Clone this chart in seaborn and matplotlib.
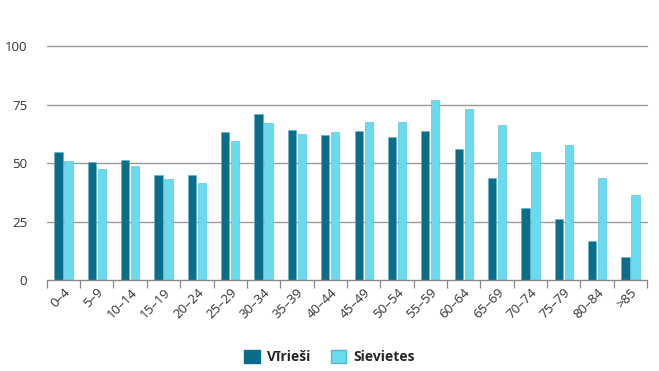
import matplotlib
matplotlib.use("Agg")
import matplotlib.pyplot as plt
import numpy as np
import pandas as pd
import seaborn as sns
from matplotlib.patches import Patch
from matplotlib.ticker import FixedLocator

AGE_GROUPS = ["0–4", "5–9", "10–14", "15–19", "20–24", "25–29", "30–34", "35–39",
              "40–44", "45–49", "50–54", "55–59", "60–64", "65–69", "70–74", "75–79",
              "80–84", ">85"]
MEN = [54.7, 50.3, 51.4, 45.0, 45.0, 63.4, 71.1, 64.3, 61.9, 63.9, 61.0, 63.9,
       56.1, 43.7, 30.6, 26.1, 16.7, 9.9]
WOMEN = [50.9, 47.4, 48.9, 43.3, 41.6, 59.6, 67.1, 62.4, 63.3, 67.7, 67.7, 76.9,
         73.0, 66.4, 54.9, 57.6, 43.7, 36.4]
SERIES = ["Vīrieši", "Sievietes"]
DARK = "#0b6d89"
LIGHT = "#68dbee"

df = pd.DataFrame({
    "age": AGE_GROUPS * 2,
    "value": MEN + WOMEN,
    "sex": [SERIES[0]] * len(MEN) + [SERIES[1]] * len(WOMEN),
})

sns.set_theme(style="white")
plt.rcParams["font.family"] = ["Open Sans", "DejaVu Sans"]

fig = plt.figure(figsize=(6.59, 3.71), dpi=100)
ax = fig.add_axes([0.071, 0.245, 0.911, 0.631])

ax.set_axisbelow(True)
for y in [25, 50, 75, 100]:
    ax.axhline(y, color="#9a9a9a", linewidth=1.0, zorder=0, clip_on=False)

sns.barplot(
    data=df, x="age", y="value", hue="sex", order=AGE_GROUPS, hue_order=SERIES,
    palette=[DARK, LIGHT], width=0.6, gap=0.18, saturation=1,
    edgecolor="#4fb8cc", linewidth=0.4, legend=False, ax=ax,
)

ax.set_xlim(-0.5, len(AGE_GROUPS) - 0.5)
ax.set_ylim(0, 100)
ax.set_yticks([0, 25, 50, 75, 100])
ax.tick_params(axis="y", length=0, labelsize=9.5, colors="#333333", pad=14)
ax.set_xlabel("")
ax.set_ylabel("")

ax.xaxis.set_minor_locator(FixedLocator(np.arange(-0.5, len(AGE_GROUPS), 1.0)))
ax.tick_params(axis="x", which="major", length=0, labelsize=9.5, colors="#333333", pad=4)
ax.tick_params(axis="x", which="minor", length=6, width=0.9, color="#888888", bottom=True)
for lbl in ax.get_xticklabels():
    lbl.set_rotation(45)
    lbl.set_ha("right")
    lbl.set_rotation_mode("anchor")

for side in ["left", "right", "top"]:
    ax.spines[side].set_visible(False)
ax.spines["bottom"].set_color("#888888")
ax.spines["bottom"].set_linewidth(1.0)

handles = [Patch(facecolor=DARK, edgecolor=DARK), Patch(facecolor=LIGHT, edgecolor="#4fb8cc")]
fig.legend(handles, SERIES, loc="center", bbox_to_anchor=(0.5, 0.037), ncol=2,
           frameon=False, handlelength=1.1, handleheight=1.1, columnspacing=1.5,
           handletextpad=0.5, prop={"size": 10, "weight": "bold"})

fig.savefig("out.png", dpi=100)
